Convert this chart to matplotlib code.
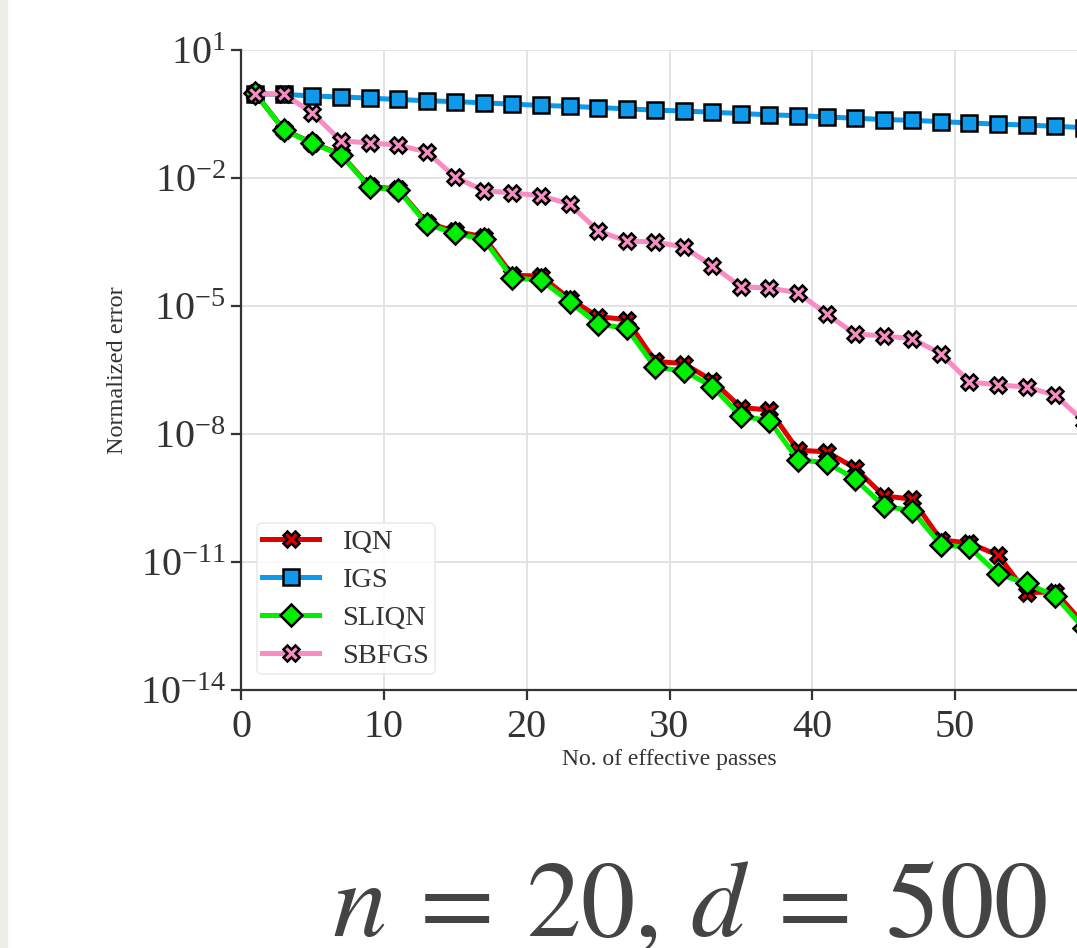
import numpy as np
import matplotlib.pyplot as plt
from matplotlib.ticker import NullLocator
from matplotlib.patches import Rectangle

plt.rcParams['font.family'] = ['Liberation Serif', 'DejaVu Serif']
plt.rcParams['mathtext.fontset'] = 'stix'

# effective passes (markers at every odd pass)
passes = np.arange(1, 61, 2)

# log10 of normalized error
iqn_exp = [-0.02, -0.87, -1.18, -1.45, -2.20, -2.26, -3.05, -3.25, -3.38, -4.28,
           -4.30, -4.83, -5.25, -5.32, -6.30, -6.35, -6.75, -7.38, -7.44, -8.38,
           -8.42, -8.80, -9.45, -9.53, -10.48, -10.56, -10.84, -11.72, -11.70, -12.45]
igs_exp = [-0.03, -0.04, -0.08, -0.10, -0.13, -0.16, -0.19, -0.21, -0.24, -0.27,
           -0.30, -0.32, -0.35, -0.38, -0.41, -0.43, -0.46, -0.49, -0.52, -0.54,
           -0.57, -0.60, -0.63, -0.65, -0.68, -0.71, -0.74, -0.76, -0.79, -0.82]
sliqn_exp = [-0.02, -0.875, -1.19, -1.46, -2.22, -2.28, -3.08, -3.30, -3.44, -4.35,
             -4.39, -4.90, -5.43, -5.52, -6.44, -6.52, -6.89, -7.58, -7.69, -8.61,
             -8.67, -9.06, -9.69, -9.80, -10.60, -10.66, -11.28, -11.50, -11.80, -12.55]
sbfgs_exp = [-0.03, -0.03, -0.48, -1.13, -1.18, -1.23, -1.39, -1.98, -2.30, -2.35,
             -2.42, -2.61, -3.24, -3.48, -3.50, -3.62, -4.06, -4.55, -4.58, -4.69,
             -5.19, -5.66, -5.70, -5.77, -6.12, -6.78, -6.85, -6.90, -7.09, -7.70]

labels = ['IQN', 'IGS', 'SLIQN', 'SBFGS']
series = [iqn_exp, igs_exp, sliqn_exp, sbfgs_exp]
colors = ['#e00000', '#0f99ea', '#00ee00', '#f98cc3']
markers = ['X', 's', 'D', 'X']

fig = plt.figure(figsize=(10.77, 9.48), dpi=100)
fig.patches.append(Rectangle((0, 0), 7 / 1077, 1, transform=fig.transFigure,
                             color='#eceee9', zorder=-1))
ax = fig.add_axes([0.2238, 0.2722, 0.7957, 0.6751])

for lab, vals, col, mk in zip(labels, series, colors, markers):
    ax.plot(passes, np.power(10.0, vals), color=col, lw=3.6, marker=mk,
            markersize=11, markerfacecolor=col, markeredgecolor='black',
            markeredgewidth=1.8, label=lab)

ax.set_yscale('log')
ax.set_xlim(0, 60)
ax.set_ylim(1e-14, 1e1)
ax.set_yticks([1e1, 1e-2, 1e-5, 1e-8, 1e-11, 1e-14])
ax.yaxis.set_minor_locator(NullLocator())
ax.set_xticks([0, 10, 20, 30, 40, 50, 60])

ax.grid(True, color='#e2e2e7', lw=1.4)
ax.set_axisbelow(True)
for s in ['top', 'right']:
    ax.spines[s].set_visible(False)
for s in ['left', 'bottom']:
    ax.spines[s].set_color('#333333')
    ax.spines[s].set_linewidth(1.6)
ax.tick_params(axis='both', colors='#333333', labelcolor='#333333',
               labelsize=29, length=7, width=1.6)
ax.tick_params(axis='x', pad=7)
ax.tick_params(axis='y', pad=4)

ax.set_xlabel('No. of effective passes', fontsize=17, color='#333333', labelpad=2)
ax.set_ylabel('Normalized error', fontsize=17.5, color='#333333', labelpad=8)

leg = ax.legend(loc='lower left', bbox_to_anchor=(0.0, 0.0), fontsize=20.5,
                handlelength=2.0, labelspacing=0.42, borderpad=0.2,
                borderaxespad=0.55, handletextpad=0.8, frameon=True, fancybox=True)
leg.get_frame().set_edgecolor('#e6e6e6')
leg.get_frame().set_linewidth(1.2)
for t in leg.get_texts():
    t.set_color('#333333')

fig.text(0.64, 0.0127, r'$n\>=\>20,\,d\>=\>500$', fontsize=78, color='#444444',
         ha='center', va='baseline')

fig.savefig('out.png', dpi=100)
